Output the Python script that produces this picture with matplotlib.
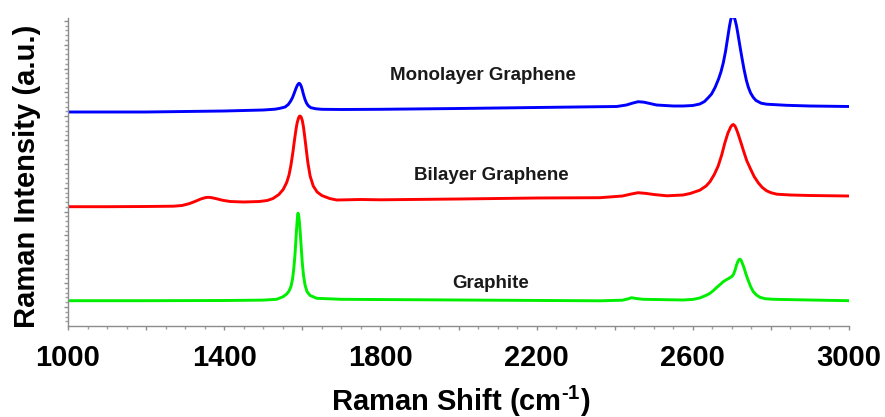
import matplotlib
matplotlib.use("Agg")
import matplotlib.pyplot as plt
from matplotlib.ticker import MultipleLocator, FuncFormatter

# Raman spectra (shift in cm^-1, intensity in arbitrary units, offsets included)
mono_shift = [1000, 1100, 1200, 1300, 1400, 1450, 1500, 1530, 1543, 1556, 1564, 1570,
              1575, 1579, 1583, 1587, 1590, 1592, 1594, 1597, 1600, 1603, 1607, 1611,
              1616, 1622, 1635, 1650, 1700, 1800, 2000, 2200, 2362, 2405, 2430, 2445,
              2460, 2475, 2490, 2507, 2550, 2575, 2600, 2618, 2630, 2640, 2648, 2657,
              2666, 2672, 2678, 2684, 2690, 2694, 2697, 2700, 2702, 2705, 2708, 2712,
              2716, 2720, 2725, 2731, 2737, 2742, 2748, 2755, 2762, 2775, 2789, 2840,
              2900, 3000]
mono_int = [214, 214, 214, 214.5, 215, 215.5, 216, 216.8, 217.7, 219, 221.5, 224.8,
            228.5, 232.5, 236.8, 240.5, 242.2, 242.7, 242.2, 240, 236.2, 231.5, 226.5, 222.7,
            220, 218.3, 217.2, 216.7, 216.5, 216.7, 217.5, 218.5, 219.3, 219.5, 221, 222.8,
            224.3, 223.8, 222.5, 221, 220, 220, 220.5, 222, 224.5, 228.5, 232, 238.5,
            247, 254, 263, 275, 290, 300, 306, 309.8, 311, 309.8, 306.5, 300,
            291, 281.5, 270, 257, 246, 239, 233, 228.5, 225.5, 222.8, 221.8, 220.7,
            220, 219.5]

bi_shift = [1000, 1100, 1200, 1270, 1292, 1310, 1325, 1340, 1352, 1359, 1367, 1380,
            1395, 1415, 1450, 1490, 1510, 1525, 1540, 1551, 1560, 1566, 1571, 1576,
            1580, 1584, 1587, 1590, 1592, 1594, 1597, 1600, 1603, 1606, 1610, 1614,
            1620, 1628, 1638, 1650, 1670, 1688, 1750, 1800, 2000, 2200, 2362, 2420,
            2440, 2460, 2480, 2500, 2534, 2575, 2593, 2618, 2634, 2644, 2655, 2665,
            2674, 2682, 2690, 2697, 2701, 2704, 2708, 2712, 2717, 2724, 2730, 2738,
            2747, 2757, 2768, 2778, 2789, 2800, 2815, 2850, 2900, 3000]
bi_int = [119.3, 119.3, 119.5, 119.8, 120.5, 122.3, 124.5, 127, 128.4, 128.7, 128.4, 127.3,
          125.8, 124.5, 124, 124.5, 125.5, 127.5, 131.5, 136.5, 143.5, 151, 161, 174,
          186, 197, 203.5, 207.5, 209.5, 210, 209, 205.5, 199, 190, 177, 164,
          150, 140, 134, 130.5, 127.5, 126, 126.5, 126.2, 127, 128, 128.3, 130,
          131.8, 133.3, 132.6, 131.5, 130.2, 131, 132.5, 135.8, 140, 144.3, 151.5, 160,
          171, 183, 193, 199, 201, 201.5, 200, 196.5, 191, 182.5, 175, 165.5,
          157.7, 149.5, 143, 138.5, 135.2, 133.3, 131.8, 131, 130.5, 130]

gr_shift = [1000, 1200, 1400, 1500, 1534, 1551, 1560, 1566, 1571, 1575, 1578, 1581,
            1583, 1585, 1587, 1588, 1589, 1591, 1593, 1595, 1597, 1600, 1603, 1607,
            1612, 1620, 1637, 1700, 2000, 2362, 2420, 2435, 2443, 2455, 2473, 2575,
            2600, 2618, 2627, 2636, 2644, 2653, 2661, 2670, 2678, 2686, 2694, 2700,
            2704, 2708, 2712, 2716, 2719, 2721, 2724, 2727, 2731, 2736, 2742, 2748,
            2755, 2763, 2772, 2785, 2806, 2900, 3000]
gr_int = [25.3, 25.3, 25.5, 25.9, 26.7, 29.3, 32, 35, 39.5, 47, 56.5, 70,
          82, 95, 106, 110.5, 112.8, 110, 102, 92, 80, 63, 51, 41,
          34.5, 30.5, 27.7, 26.7, 26, 25.2, 25.8, 27.2, 28.3, 27.5, 26.7, 26,
          26.6, 28, 29.5, 31, 32.7, 35.5, 38.5, 41.5, 44.3, 46.3, 48, 49.5,
          51.5, 55.5, 61, 65, 66.6, 66.8, 65.5, 62.5, 58.5, 52, 45.5, 39.5,
          34.3, 31, 28.7, 27.3, 26.7, 26, 25.3]

series_names = ["Monolayer Graphene", "Bilayer Graphene", "Graphite"]
series_colors = ["#0000ff", "#ff0000", "#00ee00"]
label_shift = [2063, 2083, 2083]
label_int = [250, 151, 43]

x_start = 1000
x_tick_step = 200
x_label_step = 400

plt.rcParams["font.family"] = ["Liberation Sans", "DejaVu Sans"]
plt.rcParams["font.weight"] = "bold"
plt.rcParams["mathtext.fontset"] = "custom"
plt.rcParams["mathtext.rm"] = "Liberation Sans:bold"
plt.rcParams["mathtext.it"] = "Liberation Sans:bold"
plt.rcParams["mathtext.bf"] = "Liberation Sans:bold"

fig = plt.figure(figsize=(8.85, 4.17), dpi=100)
ax = fig.add_axes([68 / 885, 1 - 326 / 417, (849 - 68) / 885, (326 - 18) / 417])

for xs, ys, col in zip([mono_shift, bi_shift, gr_shift],
                       [mono_int, bi_int, gr_int], series_colors):
    ax.plot(xs, ys, color=col, lw=2.1, solid_joinstyle="round",
            solid_capstyle="round")

for name, lx, ly in zip(series_names, label_shift, label_int):
    ax.text(lx, ly, name, ha="center", va="center", fontsize=13.5,
            fontweight="bold", color="#1a1a1a")

ax.set_xlim(1000, 3000)
ax.set_ylim(0, 308)


def x_label(v, pos):
    k = int(round(v))
    return str(k) if (k - x_start) % x_label_step == 0 else ""


ax.xaxis.set_major_locator(MultipleLocator(x_tick_step))
ax.xaxis.set_minor_locator(MultipleLocator(50))
ax.xaxis.set_major_formatter(FuncFormatter(x_label))
ax.yaxis.set_major_locator(MultipleLocator(23.85, offset=19))
ax.yaxis.set_minor_locator(MultipleLocator(23.85 / 5, offset=19))
ax.yaxis.set_major_formatter(FuncFormatter(lambda v, p: ""))

for side in ("top", "right"):
    ax.spines[side].set_visible(False)
for side in ("left", "bottom"):
    ax.spines[side].set_color("#8c8c8c")
    ax.spines[side].set_linewidth(1.0)

ax.tick_params(which="major", direction="out", length=3, width=1, color="#8c8c8c")
ax.tick_params(which="minor", direction="out", length=2, width=1, color="#a0a0a0")
ax.tick_params(axis="x", which="major", labelsize=21, pad=10, labelcolor="black")

fig.text(461 / 885, 1 - 401 / 417, r"Raman Shift (cm$^{\text{-1}}$)",
         ha="center", va="center", fontsize=21, fontweight="bold")
fig.text(27 / 885, 1 - 176 / 417, "Raman Intensity (a.u.)", rotation=90,
         ha="center", va="center", fontsize=21, fontweight="bold")

fig.savefig("out.png", dpi=100)
